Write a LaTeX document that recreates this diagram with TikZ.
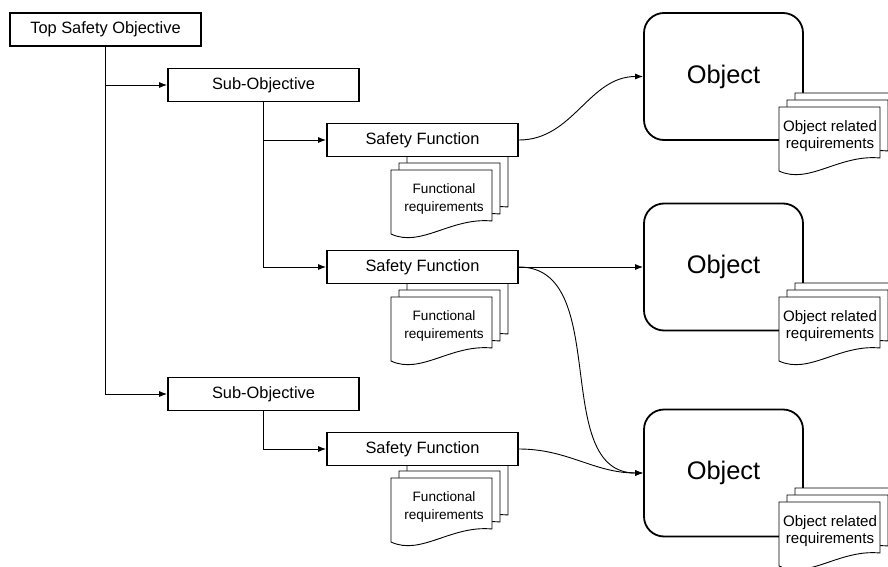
\documentclass[tikz,border=0pt]{standalone}
\usepackage{fontspec}
\setmainfont{Liberation Sans}
\usetikzlibrary{arrows.meta}
\newcommand{\docpage}[2]{%
  \filldraw[docline] (#1,#2) -- (#1+101,#2) -- (#1+101,#2+51)
    .. controls (#1+60,#2+47) and (#1+30,#2+78) .. (#1,#2+64) -- cycle;}
\newcommand{\docstack}[2]{%
  \docpage{#1+16}{#2-14}\docpage{#1+8}{#2-7}\docpage{#1}{#2}}
\tikzset{
  box/.style={draw=black, line width=1.8pt, fill=white, minimum width=191pt,
    minimum height=33pt, inner sep=0pt, font=\fontsize{16.4}{19}\selectfont},
  objbox/.style={draw=black, line width=1.8pt, fill=white, rounded corners=20pt,
    minimum width=159pt, minimum height=127pt, inner sep=0pt,
    font=\fontsize{25.4}{30}\selectfont},
  docline/.style={draw=black, line width=0.9pt, fill=white},
  fdoc/.style={align=center, inner sep=0pt, font=\fontsize{13.6}{17.7}\selectfont},
  odoc/.style={align=center, inner sep=0pt, font=\fontsize{15.1}{17}\selectfont},
  arr/.style={draw=black, line width=0.9pt, -{Latex[length=8pt,width=6pt]}},
  conn/.style={draw=black, line width=0.9pt}
}
\begin{document}
\begin{tikzpicture}[x=1pt,y=-1pt]
\clip (0,0) rectangle (888,567);
\fill[white] (0,0) rectangle (888,567);
% hierarchy boxes
\node[box] (tso) at (105.5,29.5) {Top Safety Objective};
\node[box] (so1) at (263.5,85) {Sub-Objective};
\node[box] (so2) at (263.5,394) {Sub-Objective};
% functional requirement documents
\docstack{391}{170}
\node[fdoc] (fr1) at (444,199) {Functional\\requirements};
\docstack{391}{297}
\node[fdoc] (fr2) at (444,326) {Functional\\requirements};
\docstack{391}{478}
\node[fdoc] (fr3) at (444,507) {Functional\\requirements};
% safety functions
\node[box] (sf1) at (422.5,140) {Safety Function};
\node[box] (sf2) at (422.5,267) {Safety Function};
\node[box] (sf3) at (422.5,449) {Safety Function};
% objects
\node[objbox] (ob1) at (723.5,76.5) {Object};
\node[objbox] (ob2) at (723.5,267) {Object};
\node[objbox] (ob3) at (723.5,473) {Object};
% object related requirement documents
\docstack{779}{107}
\node[odoc] (or1) at (830,136) {Object related\\requirements};
\docstack{779}{297}
\node[odoc] (or2) at (830,326) {Object related\\requirements};
\docstack{779}{502}
\node[odoc] (or3) at (830,531) {Object related\\requirements};
% connectors
\draw[arr] (tso.south) |- (so2.west);
\draw[arr] (tso.south |- so1.west) -- (so1.west);
\draw[arr] (so1.south) |- (sf2.west);
\draw[arr] (so1.south |- sf1.west) -- (sf1.west);
\draw[arr] (so2.south) |- (sf3.west);
\draw[arr] (sf1.east) to[out=0,in=180] (ob1.west);
\draw[arr] (sf2.east) -- (ob2.west);
\draw[arr] (sf2.east) to[out=0,in=180] (ob3.west);
\draw[arr] (sf3.east) to[out=0,in=180] (ob3.west);
\end{tikzpicture}
\end{document}
